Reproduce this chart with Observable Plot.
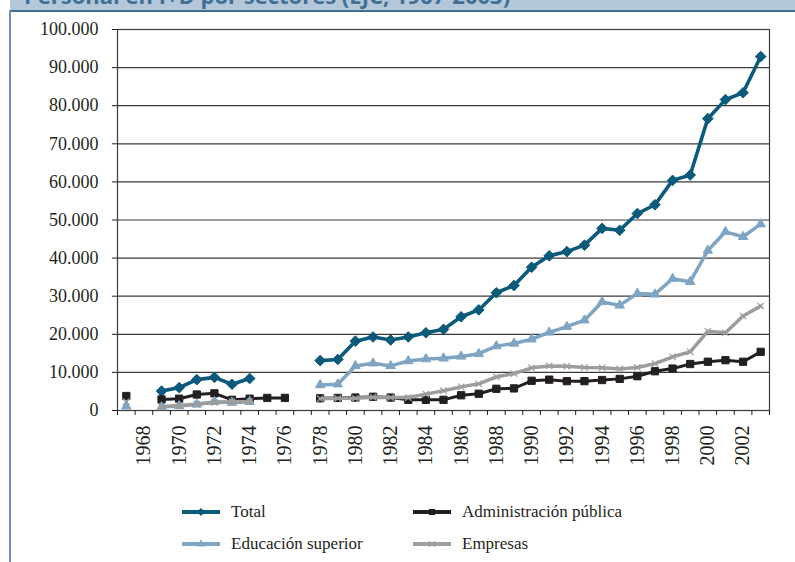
<!DOCTYPE html>
<html><head><meta charset="utf-8">
<script src="https://cdn.jsdelivr.net/npm/d3@7"></script>
<script src="https://cdn.jsdelivr.net/npm/@observablehq/plot@0.6"></script>
<style>
html,body{margin:0;padding:0;background:#fff}
body{width:795px;height:562px;overflow:hidden;position:relative;font-family:"Liberation Serif",serif;color:#231f20}
#band{position:absolute;left:10px;top:0;width:785px;height:10px;background:#b3c7d8;overflow:hidden}
#band span{position:absolute;left:14px;top:-17px;font:bold 22px/24px "Open Sans",sans-serif;color:#3f6f95;white-space:nowrap}
#topline{position:absolute;left:10px;top:10px;width:785px;height:2px;background:#3f6f95}
#leftline{position:absolute;left:9px;top:10px;width:2px;height:552px;background:#6a93b5}
#chart{position:absolute;left:0;top:0}
.leg{position:absolute;display:flex;align-items:center;font-size:17px;white-space:nowrap}
.leg svg{margin-right:11px}
</style></head>
<body>
<div id="band"><span>Personal en I+D por sectores (EJC, 1967-2003)</span></div>
<div id="topline"></div>
<div id="leftline"></div>
<div id="chart"></div>
<div id="legend"></div>
<script>
const years = d3.range(1967, 2004);
const yTicks = d3.range(0, 100001, 10000);
const xLabelYears = d3.range(1968, 2003, 2);
const seriesNames = ["Total", "Administración pública", "Educación superior", "Empresas"];

const total = [null, null, 5100, 6000, 8100, 8700, 6900, 8400, null, null, null,
  13100, 13400, 18200, 19300, 18500, 19300, 20400, 21300, 24600, 26400,
  30900, 32800, 37600, 40600, 41700, 43400, 47800, 47300, 51700, 54000,
  60400, 61800, 76600, 81600, 83400, 92900];
const administracion = [3800, null, 2900, 3100, 4200, 4500, 2800, 3100, 3300, 3300, null,
  3200, 3300, 3400, 3600, 3400, 2800, 2800, 2800, 4000, 4400,
  5700, 5800, 7800, 8100, 7700, 7700, 8000, 8300, 9000, 10300,
  11000, 12200, 12800, 13200, 12800, 15400];
const educacion = [1100, null, 900, 1200, 1600, 2300, 2100, 2300, null, null, null,
  6700, 6900, 11700, 12400, 11700, 13000, 13500, 13700, 14200, 14900,
  16900, 17600, 18700, 20500, 22000, 23700, 28500, 27600, 30700, 30500,
  34600, 33800, 42000, 46900, 45600, 48900];
const empresas = [2300, null, 1000, 1300, 1700, 2100, 2300, 2300, null, null, null,
  3100, 3200, 3200, 3500, 3400, 3400, 4300, 5200, 6200, 7000,
  8800, 9700, 11200, 11700, 11600, 11300, 11200, 10900, 11300, 12300,
  14100, 15400, 20800, 20400, 24800, 27400];

const styles = {
  "Total": {color: "#0b5a7b", symbol: "diamond2", r: 4.8, sw: 3.6, legSize: 42},
  "Administración pública": {color: "#231f20", symbol: "square", r: 4.1, sw: 3, legSize: 36},
  "Educación superior": {color: "#7ea5c3", symbol: "triangle", r: 3.5, sw: 3.5, legSize: 30},
  "Empresas": {color: "#9d9d9d", symbol: "times", r: 3, sw: 3.5, legSize: 25}
};
const valuesBy = {
  "Total": total,
  "Administración pública": administracion,
  "Educación superior": educacion,
  "Empresas": empresas
};
const drawOrder = ["Total", "Administración pública", "Educación superior", "Empresas"];

const es = d3.formatLocale({decimal: ",", thousands: ".", grouping: [3], currency: ["", " €"]});
const fmt = es.format(",");

const marks = [
  Plot.gridY({ticks: yTicks, stroke: "#3a3a3a", strokeOpacity: 1, strokeWidth: 1.2}),
  Plot.frame({stroke: "#3a3a3a", strokeWidth: 1.2}),
  Plot.axisY({ticks: yTicks, tickFormat: fmt, tickSize: 5, tickPadding: 14, fontSize: 18, label: null}),
  Plot.axisX({ticks: d3.range(1966.5, 2004, 1), tickSize: 5, tickFormat: () => "", label: null}),
  Plot.axisX({ticks: xLabelYears, tickSize: 0, tickRotate: -90, tickPadding: 15, fontSize: 20, tickFormat: d => String(d), label: null})
];
for (const name of drawOrder) {
  const s = styles[name];
  const rows = years.map((yr, i) => ({year: yr, value: valuesBy[name][i]}));
  marks.push(Plot.line(rows, {x: "year", y: "value", stroke: s.color, strokeWidth: s.sw, strokeLinejoin: "round"}));
  const pts = rows.filter(d => d.value != null);
  if (s.symbol === "times") {
    marks.push(Plot.dot(pts, {x: "year", y: "value", symbol: "times", r: s.r, stroke: s.color, strokeWidth: 1.2}));
  } else {
    marks.push(Plot.dot(pts, {x: "year", y: "value", symbol: s.symbol, r: s.r, fill: s.color, stroke: s.color, strokeWidth: 1}));
  }
}

const plot = Plot.plot({
  width: 795, height: 480,
  marginLeft: 117, marginRight: 26, marginTop: 29, marginBottom: 70,
  x: {domain: [1966.5, 2003.5]},
  y: {domain: [0, 100000]},
  style: {fontFamily: "Liberation Serif, serif", color: "#231f20", background: "transparent"},
  marks
});
document.getElementById("chart").appendChild(plot);

// legend
const legPos = [
  {name: "Total", left: 182, top: 511.5},
  {name: "Administración pública", left: 413, top: 511.5},
  {name: "Educación superior", left: 182, top: 543.5},
  {name: "Empresas", left: 413, top: 543.5}
];
const legend = document.getElementById("legend");
for (const p of legPos) {
  const s = styles[p.name];
  const div = document.createElement("div");
  div.className = "leg";
  div.style.left = p.left + "px";
  div.style.top = (p.top - 11) + "px";
  div.style.height = "22px";
  const ns = "http://www.w3.org/2000/svg";
  const svg = document.createElementNS(ns, "svg");
  svg.setAttribute("width", 38); svg.setAttribute("height", 12);
  const line = document.createElementNS(ns, "line");
  line.setAttribute("x1", 0); line.setAttribute("x2", 38);
  line.setAttribute("y1", 6); line.setAttribute("y2", 6);
  line.setAttribute("stroke", s.color); line.setAttribute("stroke-width", 4);
  svg.appendChild(line);
  const symMap = {diamond2: d3.symbolDiamond2, square: d3.symbolSquare, triangle: d3.symbolTriangle, times: d3.symbolTimes};
  const path = document.createElementNS(ns, "path");
  path.setAttribute("d", d3.symbol(symMap[s.symbol], s.legSize)());
  path.setAttribute("transform", "translate(19,6)");
  if (s.symbol === "times") { path.setAttribute("stroke", s.color); path.setAttribute("fill", "none"); }
  else { path.setAttribute("fill", s.color); }
  svg.appendChild(path);
  div.appendChild(svg);
  const t = document.createElement("span");
  t.textContent = p.name;
  div.appendChild(t);
  legend.appendChild(div);
}
</script>
</body></html>
